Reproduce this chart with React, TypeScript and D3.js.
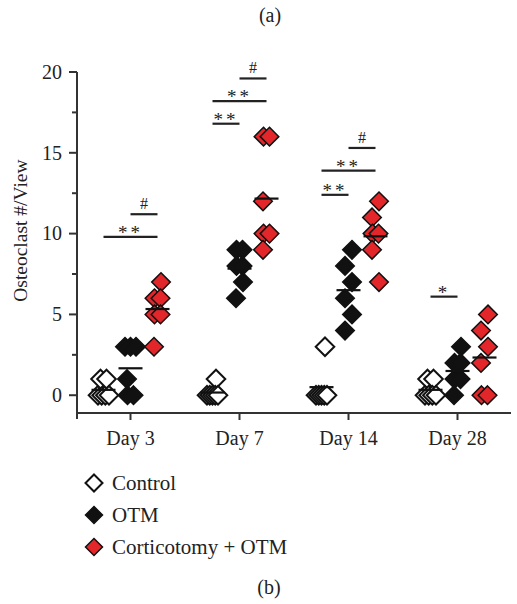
import React from "react";
import * as d3 from "d3";

const days = ["Day 3", "Day 7", "Day 14", "Day 28"];
const groups = ["Control", "OTM", "Corticotomy + OTM"];
const controlValues = [
  [0, 0, 0, 1, 1, 0],
  [1, 0, 0, 0, 0, 0],
  [3, 0, 0, 0, 0, 0],
  [1, 1, 0, 0, 0, 0],
];
const otmValues = [
  [3, 3, 3, 1, 0, 0],
  [9, 9, 8, 8, 7, 6],
  [9, 8, 7, 6, 5, 4],
  [3, 2, 2, 1, 1, 0],
];
const corticotomyValues = [
  [7, 6, 6, 5, 5, 3],
  [16, 16, 12, 10, 10, 9],
  [12, 11, 10, 10, 9, 7],
  [5, 4, 3, 2, 0, 0],
];
const yTicks = [0, 5, 10, 15, 20];
const yMinorTicks = [2.5, 7.5, 12.5, 17.5];

// significance bars: day, from group, to group, level, label
const sigDays = ["Day 3", "Day 3", "Day 7", "Day 7", "Day 7", "Day 14", "Day 14", "Day 14", "Day 28"];
const sigFrom = ["Control", "OTM", "Control", "Control", "OTM", "Control", "Control", "OTM", "Control"];
const sigTo = ["Corticotomy + OTM", "Corticotomy + OTM", "OTM", "Corticotomy + OTM", "Corticotomy + OTM", "OTM", "Corticotomy + OTM", "Corticotomy + OTM", "OTM"];
const sigLevel = [9.8, 11.2, 16.8, 18.2, 19.6, 12.4, 13.9, 15.3, 6.1];
const sigLabel = ["**", "#", "**", "**", "#", "**", "**", "#", "*"];

const RED = "#e3262a";
const INK = "#222";
const FONT = "'Liberation Serif', 'Times New Roman', serif";

function dodge(values: number[]): number[] {
  const distinct = Array.from(new Set(values)).sort((a, b) => b - a);
  const seen = new Map<number, number>();
  return values.map((v) => {
    const n = values.filter((u) => u === v).length;
    const i = seen.get(v) ?? 0;
    seen.set(v, i + 1);
    if (n === 1) {
      const r = distinct.indexOf(v);
      return r % 2 === 0 ? 3.5 : -3.5;
    }
    const step = Math.min(6, 11 / (n - 1));
    return (i - (n - 1) / 2) * step;
  });
}

function diamond(cx: number, cy: number, r: number) {
  return `M${cx},${cy - r}L${cx + r},${cy}L${cx},${cy + r}L${cx - r},${cy}Z`;
}

export default function App() {
  const x = d3.scaleBand<string>().domain(days).range([76, 512]);
  const off = d3.scalePoint<string>().domain(groups).range([-27, 27]);
  const y = d3.scaleLinear().domain([-1.1, 20]).range([413, 72]);
  const cx = (day: string) => (x(day) ?? 0) + x.bandwidth() / 2;

  const fills = ["#fff", "#111", RED];
  const series = [controlValues, otmValues, corticotomyValues];
  const R = 9.3;

  return (
    <svg width={517} height={604} style={{ position: "absolute", left: 0, top: 0 }} fontFamily={FONT}>
      <rect width={517} height={604} fill="#fff" />
      <text x={270} y={22} textAnchor="middle" fontSize={20} fill={INK}>(a)</text>
      <text x={269} y={594} textAnchor="middle" fontSize={20} fill={INK}>(b)</text>

      {/* Y axis */}
      <line x1={77} x2={77} y1={y(20)} y2={419} stroke="#333" strokeWidth={2} />
      {yTicks.map((t) => (
        <g key={t}>
          <line x1={69} x2={77} y1={y(t)} y2={y(t)} stroke="#333" strokeWidth={2} />
          <text x={62} y={y(t)} dy="0.34em" textAnchor="end" fontSize={20} fill={INK}>{t}</text>
        </g>
      ))}
      {yMinorTicks.map((t) => (
        <line key={t} x1={72} x2={77} y1={y(t)} y2={y(t)} stroke="#333" strokeWidth={2} />
      ))}
      <text transform={`translate(27,${y(10) - 3}) rotate(-90)`} textAnchor="middle" fontSize={19.5} fill={INK}>
        Osteoclast #/View
      </text>

      {/* X axis */}
      <line x1={76} x2={511} y1={413} y2={413} stroke="#333" strokeWidth={2} />
      {days.map((d) => (
        <g key={d}>
          <line x1={cx(d)} x2={cx(d)} y1={413} y2={420} stroke="#333" strokeWidth={2} />
          <text x={cx(d)} y={445} textAnchor="middle" fontSize={20} fill={INK}>{d}</text>
        </g>
      ))}

      {/* points */}
      {days.map((d, di) =>
        groups.map((g, gi) => {
          const vals = series[gi][di];
          const dx = dodge(vals);
          const gx = cx(d) + (off(g) ?? 0);
          return (
            <g key={d + g}>
              {vals.map((v, i) => (
                <path key={i} d={diamond(gx + dx[i], y(v), R)} fill={fills[gi]} stroke="#111" strokeWidth={gi === 0 ? 2 : 1.5} strokeLinejoin="miter" />
              ))}
            </g>
          );
        })
      )}
      {/* means */}
      {days.map((d, di) =>
        groups.map((g, gi) => {
          const m = d3.mean(series[gi][di]) ?? 0;
          const gx = cx(d) + (off(g) ?? 0);
          return <line key={"m" + d + g} x1={gx - 12} x2={gx + 12} y1={y(m)} y2={y(m)} stroke="#111" strokeWidth={2.2} />;
        })
      )}

      {/* significance */}
      {sigDays.map((d, i) => {
        const x1 = cx(d) + (off(sigFrom[i]) ?? 0);
        const x2 = cx(d) + (off(sigTo[i]) ?? 0);
        const yy = y(sigLevel[i]);
        const isHash = sigLabel[i] === "#";
        return (
          <g key={"s" + i}>
            <line x1={x1} x2={x2} y1={yy} y2={yy} stroke="#222" strokeWidth={2.2} />
            <text x={(x1 + x2) / 2} y={isHash ? yy - 5 : yy + 2} textAnchor="middle" fontSize={isHash ? 16 : 19} letterSpacing={isHash ? 0 : 3} fill={INK}>
              {sigLabel[i]}
            </text>
          </g>
        );
      })}

      {/* legend */}
      {groups.map((g, gi) => (
        <g key={"l" + g}>
          <path d={diamond(94, 483 + gi * 32, 8.5)} fill={fills[gi]} stroke="#111" strokeWidth={gi === 0 ? 2 : 1.5} />
          <text x={112} y={490 + gi * 32} fontSize={21} fill={INK}>{g}</text>
        </g>
      ))}
    </svg>
  );
}
